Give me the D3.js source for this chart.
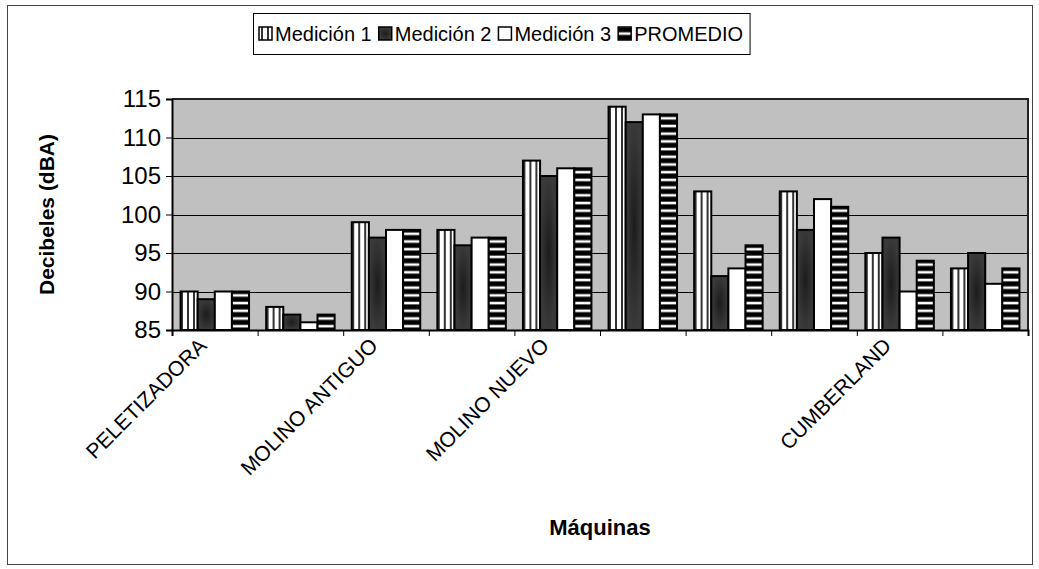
<!DOCTYPE html>
<html><head><meta charset="utf-8">
<script src="https://cdn.jsdelivr.net/npm/d3@7"></script>
<style>body{margin:0;background:#fff;} svg{display:block;font-family:"Liberation Sans",Arial,sans-serif;}</style>
</head><body><svg id="c" width="1039" height="569"></svg>
<script>
const categories = ["PELETIZADORA","","MOLINO ANTIGUO","","MOLINO NUEVO","","","","CUMBERLAND",""];
const seriesNames = ["Medición 1","Medición 2","Medición 3","PROMEDIO"];
const medicion1 = [90,88,99,98,107,114,103,103,95,93];
const medicion2 = [89,87,97,96,105,112,92,98,97,95];
const medicion3 = [90,86,98,97,106,113,93,102,90,91];
const promedio  = [90,87,98,97,106,113,96,101,94,93];
const yTicks = [85,90,95,100,105,110,115];
const yTitle = "Decibeles (dBA)";
const xTitle = "Máquinas";

const series = [medicion1, medicion2, medicion3, promedio];
const svg = d3.select("#c");
const L = 172, R = 1028, T = 99, B = 330;

const defs = svg.append("defs");
const p1 = defs.append("pattern").attr("id","pv").attr("patternUnits","userSpaceOnUse")
  .attr("width",6).attr("height",10);
p1.append("rect").attr("width",6).attr("height",10).attr("fill","#fff");
p1.append("rect").attr("x",3).attr("width",2).attr("height",10).attr("fill","#333");
const g2 = defs.append("radialGradient").attr("id","dk");
g2.append("stop").attr("offset","0%").attr("stop-color","#1c1c1c");
g2.append("stop").attr("offset","100%").attr("stop-color","#3a3a3a");
const p4 = defs.append("pattern").attr("id","ph").attr("patternUnits","userSpaceOnUse")
  .attr("width",10).attr("height",7.7).attr("y",B);
p4.append("rect").attr("width",10).attr("height",7.7).attr("fill","#000");
p4.append("rect").attr("y",2.6).attr("width",10).attr("height",2.6).attr("fill","#fff");
const fills = ["url(#pv)","url(#dk)","#fff","url(#ph)"];

svg.append("rect").attr("x",7.5).attr("y",5.5).attr("width",1025).attr("height",559)
  .attr("fill","#fff").attr("stroke","#444").attr("stroke-width",1);

const x = d3.scaleBand().domain(d3.range(categories.length)).range([L,R]).padding(0);
const x1 = d3.scaleBand().domain(d3.range(series.length)).range([0,x.bandwidth()])
  .paddingInner(0).paddingOuter(0.5);
const y = d3.scaleLinear().domain([85,115]).range([B,T]);

svg.append("rect").attr("x",L).attr("y",T).attr("width",R-L).attr("height",B-T).attr("fill","#c0c0c0");
svg.append("g").selectAll("line").data(yTicks.slice(1,-1)).join("line")
  .attr("x1",L).attr("x2",R).attr("y1",d=>Math.round(y(d))+0.5).attr("y2",d=>Math.round(y(d))+0.5)
  .attr("stroke","#000").attr("stroke-width",1);

const gg = svg.append("g").selectAll("g").data(d3.range(categories.length)).join("g")
  .attr("transform",i=>`translate(${x(i)},0)`);
gg.selectAll("rect").data(i=>series.map((s,k)=>({k,v:s[i]}))).join("rect")
  .attr("x",d=>x1(d.k)).attr("width",x1.bandwidth())
  .attr("y",d=>y(d.v)).attr("height",d=>B-y(d.v))
  .attr("fill",d=>fills[d.k]).attr("stroke","#000").attr("stroke-width",2);

svg.append("path").attr("d",`M${L},${T}H${R}V${B}`).attr("fill","none").attr("stroke","#222").attr("stroke-width",2);

const ya = svg.append("g").attr("transform",`translate(${L},0)`)
  .call(d3.axisLeft(y).tickValues(yTicks).tickSize(6).tickPadding(5).tickFormat(d3.format("d")));
ya.select(".domain").attr("stroke","#000").attr("stroke-width",2);
ya.selectAll(".tick line").attr("stroke","#000");
ya.selectAll(".tick text").attr("font-size",24).attr("fill","#000").attr("font-family","Liberation Sans, Arial, sans-serif");

const xb = d3.scaleLinear().domain([0,categories.length]).range([L,R]);
const xa = svg.append("g").attr("transform",`translate(0,${B})`)
  .call(d3.axisBottom(xb).tickValues(d3.range(categories.length+1)).tickSize(6).tickFormat(""));
xa.select(".domain").attr("stroke","#000").attr("stroke-width",2);
xa.selectAll(".tick line").attr("stroke","#000");

svg.append("g").selectAll("text").data(d3.range(categories.length)).join("text")
  .attr("transform",i=>`translate(${x(i)+x.bandwidth()/2-7},${B+17}) rotate(-45)`)
  .attr("text-anchor","end").attr("font-size",21).attr("fill","#000")
  .text(i=>categories[i]);

svg.append("text").attr("transform",`translate(54,${(T+B)/2}) rotate(-90)`)
  .attr("text-anchor","middle").attr("font-size",21).attr("font-weight","bold").text(yTitle);
svg.append("text").attr("x",(L+R)/2).attr("y",535)
  .attr("text-anchor","middle").attr("font-size",22).attr("font-weight","bold").text(xTitle);

const lg = svg.append("g");
const box = lg.append("rect").attr("x",253.5).attr("y",13.5).attr("height",41)
  .attr("fill","#fff").attr("stroke","#000").attr("stroke-width",1);
let cx = 259;
seriesNames.forEach((n,k)=>{
  lg.append("rect").attr("x",cx).attr("y",27).attr("width",13).attr("height",13)
    .attr("fill",fills[k]).attr("stroke","#000").attr("stroke-width",1.5);
  const t = lg.append("text").attr("x",cx+16).attr("y",41).attr("font-size",20).text(n);
  cx = cx + 16 + t.node().getComputedTextLength() + 7;
});
box.attr("width",cx-253.5);
</script></body></html>
